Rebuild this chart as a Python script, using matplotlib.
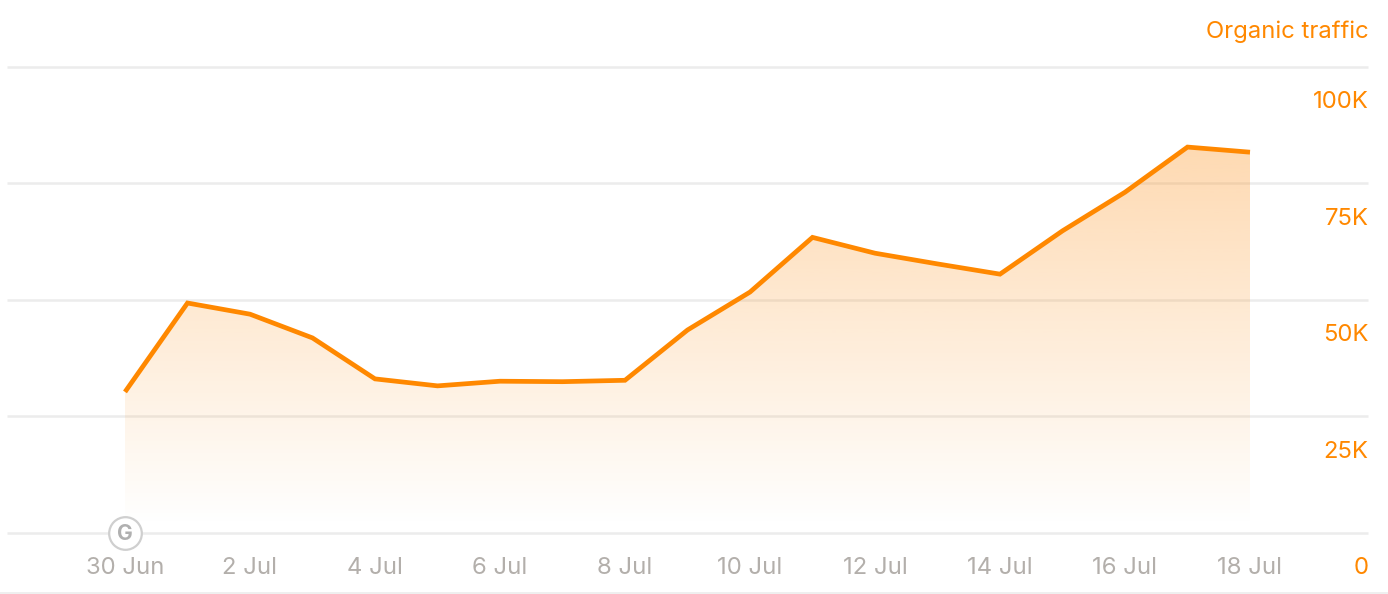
"""Organic traffic area chart."""

import matplotlib
matplotlib.use("Agg")
import matplotlib.pyplot as plt
import numpy as np
from matplotlib.colors import to_rgb
from matplotlib.lines import Line2D
from matplotlib.patches import Polygon

plt.rcParams["font.family"] = ["Inter", "DejaVu Sans"]

ORANGE = "#ff8800"
GRID = "#ececec"
MUTED = "#b3afab"
FONT_SIZE = 17.2

days = ["30 Jun", "1 Jul", "2 Jul", "3 Jul", "4 Jul", "5 Jul", "6 Jul", "7 Jul", "8 Jul", "9 Jul",
        "10 Jul", "11 Jul", "12 Jul", "13 Jul", "14 Jul", "15 Jul", "16 Jul", "17 Jul", "18 Jul"]
traffic = [30200, 49300, 46900, 41800, 33000, 31500, 32500, 32400, 32700, 43500,
           51650, 63400, 60000, 57700, 55500, 64800, 73100, 82800, 81700]
y_ticks = [0, 25000, 50000, 75000, 100000]
y_labels = ["0", "25K", "50K", "75K", "100K"]

W, H = 1388, 594
fig = plt.figure(figsize=(W / 100, H / 100), dpi=100)
ax = fig.add_axes([7 / W, 1 - 532.5 / H, (1368 - 7) / W, (532.5 - 67) / H])

x = np.arange(len(days))

for spine in ax.spines.values():
    spine.set_visible(False)

ax.set_yticks(y_ticks)
ax.set_yticklabels([])
ax.tick_params(axis="y", length=0)
ax.grid(True, axis="y", color=GRID, linewidth=1.8, zorder=1)
ax.set_axisbelow(True)
for gl in ax.get_ygridlines():
    gl.set_clip_on(False)
    gl.set_solid_capstyle("butt")

ax.set_xticks(x[::2])
ax.set_xticklabels(days[::2], fontsize=FONT_SIZE, color=MUTED)
ax.tick_params(axis="x", length=0, pad=17.5)

# Gradient under the line, clipped to the area polygon
gradient = np.zeros((256, 1, 4))
gradient[..., :3] = to_rgb("#fd9a2e")
gradient[..., 3] = np.linspace(0.37, 0.0, 256).reshape(-1, 1)
img = ax.imshow(gradient, extent=(x[0], x[-1], 1500, max(traffic)), origin="upper",
                aspect="auto", zorder=2, interpolation="bilinear")
area = Polygon(np.column_stack([np.r_[x, x[-1], x[0]], np.r_[traffic, 0, 0]]),
               closed=True, transform=ax.transData, fill=False, edgecolor="none")
ax.add_patch(area)
img.set_clip_path(area)
ax.set_xlim(-118 / 62.5, (1368 - 125) / 62.5)
ax.set_ylim(0, 100000)

ax.plot(x, traffic, color=ORANGE, linewidth=3.4, solid_joinstyle="miter",
        solid_capstyle="butt", zorder=4)

# Right-hand value labels sit just below their gridlines
for tick, label in zip(y_ticks, y_labels):
    ax.annotate(label, xy=(1, tick), xycoords=("axes fraction", "data"),
                xytext=(0.5, -25.5), textcoords="offset points",
                ha="right", va="center", fontsize=FONT_SIZE, color=ORANGE, annotation_clip=False)

fig.text(1368.5 / W, 1 - 31.5 / H, "Organic traffic", ha="right", va="center",
         fontsize=FONT_SIZE, color=ORANGE)

# Google update marker
ax.plot([0], [0], marker="o", markersize=23.5, markerfacecolor="white",
        markeredgecolor="#cfcfcf", markeredgewidth=1.6, clip_on=False, zorder=5)
ax.text(0, 0, "G", ha="center", va="center_baseline", fontsize=15, fontweight="bold",
        color="#b0b0b0", zorder=6, clip_on=False)

fig.add_artist(Line2D([0, 1], [1 - 593 / H, 1 - 593 / H], color="#ececec", linewidth=1.2))

fig.savefig("out.png", dpi=100)
